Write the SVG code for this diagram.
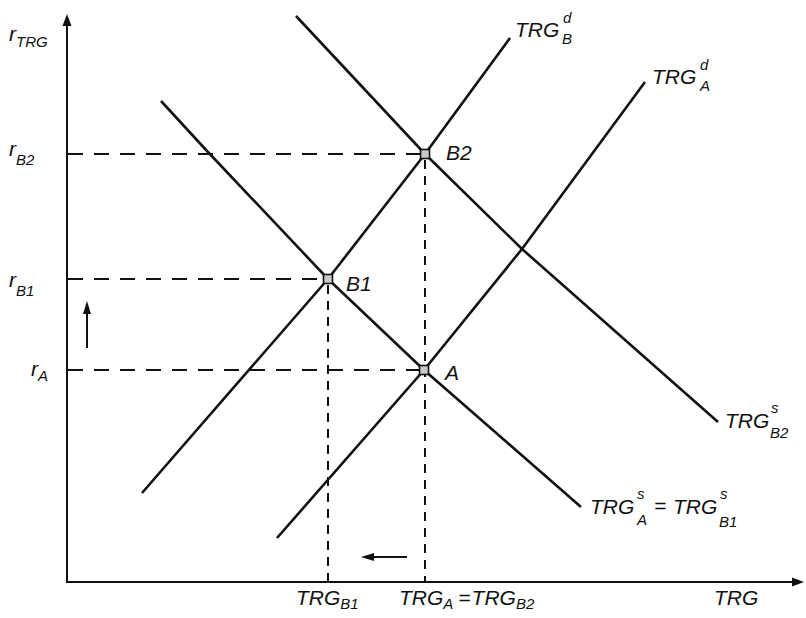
<svg xmlns="http://www.w3.org/2000/svg" width="806" height="618" viewBox="0 0 806 618">
<defs>
<style>
.ax{stroke:#111;stroke-width:2;fill:none}
.cv{stroke:#111;stroke-width:2.6;fill:none;stroke-linejoin:round}
.dh{stroke:#111;stroke-width:2;fill:none;stroke-dasharray:15 11}
.dv{stroke:#111;stroke-width:2;fill:none;stroke-dasharray:9 7}
.pt{fill:#c8c8c8;stroke:#111;stroke-width:1.6}
text{font-family:"Liberation Sans",Arial,sans-serif;font-style:italic;fill:#111}
.m{font-size:21px}
.s{font-size:15px}
</style>
</defs>
<rect width="806" height="618" fill="#fff"/>
<g id="axes">
<line class="ax" x1="67" y1="583" x2="67" y2="24"/>
<polygon points="67,14 62.5,26 71.5,26" fill="#111"/>
<line class="ax" x1="67" y1="582" x2="793" y2="582"/>
<polygon points="804,582 792,577.5 792,586.5" fill="#111"/>
</g>
<g id="connectors">
<line class="dh" x1="68" y1="154" x2="420" y2="154"/>
<line class="dh" x1="68" y1="279" x2="323" y2="279"/>
<line class="dh" x1="68" y1="370" x2="419" y2="370"/>
<line class="dv" x1="328" y1="285" x2="328" y2="582"/>
<line class="dv" x1="425" y1="160" x2="425" y2="582"/>
<g id="arrow-up"><line class="ax" x1="87" y1="348" x2="87" y2="310"/><polygon points="87,301 83,314 91,314" fill="#111"/></g>
<g id="arrow-left"><line class="ax" x1="407" y1="557" x2="370" y2="557"/><polygon points="361,557 374,553 374,561" fill="#111"/></g>
</g>
<g id="TRG_B_d"><polyline class="cv" points="142,493 328,279 425,154 510,38"/></g>
<g id="TRG_A_d"><polyline class="cv" points="277,538 424,370 522,249 645,82"/></g>
<g id="TRG_A_s"><polyline class="cv" points="161,101 207,151 328,279 424,370 581,507"/></g>
<g id="TRG_B2_s"><polyline class="cv" points="296,16 425,154 522,249 718,422"/></g>
<g id="B2"><rect class="pt" x="420.5" y="149.5" width="9" height="9"/><text class="m" x="446" y="160">B2</text></g>
<g id="B1"><rect class="pt" x="323.5" y="274.5" width="9" height="9"/><text class="m" x="346" y="291">B1</text></g>
<g id="A"><rect class="pt" x="419.5" y="365.5" width="9" height="9"/><text class="m" x="445" y="380">A</text></g>
<g id="labels">
<text class="m" x="9" y="41">r<tspan class="s" dy="6">TRG</tspan></text>
<text class="m" x="9" y="156">r<tspan class="s" dy="9">B2</tspan></text>
<text class="m" x="9" y="287">r<tspan class="s" dy="9">B1</tspan></text>
<text class="m" x="31" y="376">r<tspan class="s" dy="5">A</tspan></text>
<text class="m" x="515" y="37">TRG</text><text class="s" x="563" y="23">d</text><text class="s" x="562" y="44">B</text>
<text class="m" x="652" y="84">TRG</text><text class="s" x="700" y="70">d</text><text class="s" x="700" y="91">A</text>
<text class="m" x="725" y="428">TRG</text><text class="s" x="771" y="413">s</text><text class="s" x="770" y="438">B2</text>
<text class="m" x="590" y="514">TRG</text><text class="s" x="637" y="499">s</text><text class="s" x="637" y="525">A</text>
<text class="m" x="654" y="513">=</text>
<text class="m" x="673" y="514">TRG</text><text class="s" x="720" y="499">s</text><text class="s" x="719" y="527">B1</text>
<text class="m" x="296" y="605">TRG<tspan class="s" dy="4">B1</tspan></text>
<text class="m" x="399" y="605">TRG<tspan class="s" dy="4">A</tspan><tspan dy="-4" dx="5">=</tspan><tspan dx="1">TRG</tspan><tspan class="s" dy="4">B2</tspan></text>
<text class="m" x="714" y="605">TRG</text>
</g>
</svg>
